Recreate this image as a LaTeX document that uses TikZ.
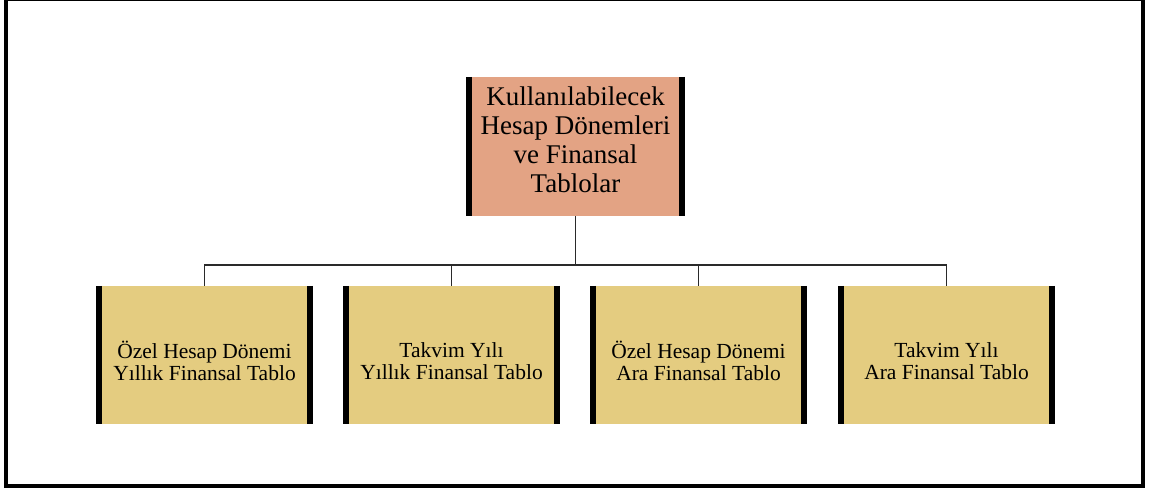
\documentclass[tikz,border=0pt]{standalone}
\usepackage{fontspec}
\setmainfont{Liberation Serif}
\definecolor{topfill}{HTML}{E3A384}
\definecolor{boxfill}{HTML}{E4CC80}
\definecolor{linegray}{HTML}{2A2A2A}
\tikzset{
  topbox/.style={rectangle, fill=topfill, draw=none, minimum width=219pt, minimum height=139pt, inner sep=0pt},
  leafbox/.style={rectangle, fill=boxfill, draw=none, minimum width=217pt, minimum height=138pt, inner sep=0pt},
  toptext/.style={align=center, font=\fontsize{27}{29}\selectfont, inner sep=0pt},
  leaftext/.style={align=center, font=\fontsize{21.5}{22}\selectfont, inner sep=0pt},
  sidebar/.style={line width=6pt, black},
  conn/.style={line width=1.4pt, linegray},
}
\begin{document}
\begin{tikzpicture}[x=1pt,y=-1pt]
\useasboundingbox (0,0) rectangle (1155,488);
% frame
\fill[black] (4,0) rectangle (8,488);
\fill[black] (4,0) rectangle (1145,1.2);
\fill[black] (1141,0) rectangle (1145,488);
\fill[black] (4,484) rectangle (1145,488);
% top node
\node[topbox] (top) at (575.5,146.5) {};
\node[toptext] (toplbl) at (575.5,140) {Kullanılabilecek\\Hesap Dönemleri\\ve Finansal\\Tablolar};
\draw[sidebar] ([xshift=3pt]top.north west) -- ([xshift=3pt]top.south west);
\draw[sidebar] ([xshift=-3pt]top.north east) -- ([xshift=-3pt]top.south east);
% leaf nodes
\node[leafbox] (b1) at (204.5,355) {};
\node[leafbox] (b2) at (451.5,355) {};
\node[leafbox] (b3) at (698.5,355) {};
\node[leafbox] (b4) at (946.5,355) {};
\node[leaftext] (l1) at (204.5,361) {Özel Hesap Dönemi\\Yıllık Finansal Tablo};
\node[leaftext] (l2) at (451.5,361) {Takvim Yılı\\Yıllık Finansal Tablo};
\node[leaftext] (l3) at (698.5,361) {Özel Hesap Dönemi\\Ara Finansal Tablo};
\node[leaftext] (l4) at (946.5,361) {Takvim Yılı\\Ara Finansal Tablo};
\foreach \b in {b1,b2,b3,b4}{
  \draw[sidebar] ([xshift=3pt]\b.north west) -- ([xshift=3pt]\b.south west);
  \draw[sidebar] ([xshift=-3pt]\b.north east) -- ([xshift=-3pt]\b.south east);
}
% connectors
\coordinate (bus) at (575.5,265);
\draw[conn] (top.south) -- (bus);
\draw[conn] (b1.north) -- (b1.north |- bus) -- (b4.north |- bus) -- (b4.north);
\draw[conn] (b2.north) -- (b2.north |- bus);
\draw[conn] (b3.north) -- (b3.north |- bus);
\end{tikzpicture}
\end{document}
